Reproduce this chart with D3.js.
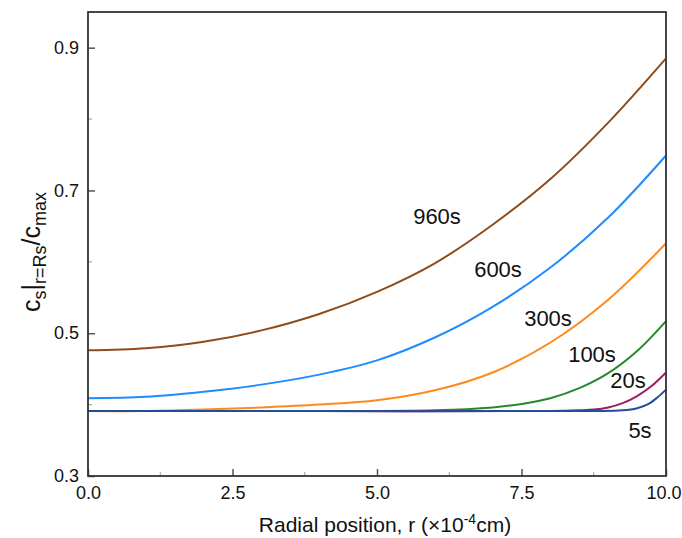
<!DOCTYPE html>
<html>
<head>
<meta charset="utf-8">
<script src="https://cdn.jsdelivr.net/npm/d3@7"></script>
<style>
  body { margin: 0; background: #fff; }
  svg text { font-family: "Liberation Sans", Arial, sans-serif; fill: #111; }
</style>
</head>
<body>
<div class="chart"></div>
<script>
// Data (r in 1e-4 cm, value = cs/cmax)

var r960 = [0, 1, 2, 3, 4, 5, 6, 7, 8, 9, 10];
var c960 = [0.476, 0.479, 0.488, 0.504, 0.527, 0.558, 0.598, 0.652, 0.716, 0.795, 0.885];

var r600 = [0, 1, 2, 3, 4, 5, 6, 7, 8, 9, 10];
var c600 = [0.409, 0.411, 0.418, 0.428, 0.442, 0.462, 0.494, 0.537, 0.592, 0.662, 0.749];

var r300 = [0, 1, 2, 3, 4, 5, 6, 7, 8, 9, 10];
var c300 = [0.391, 0.391, 0.393, 0.396, 0.400, 0.406, 0.420, 0.445, 0.487, 0.547, 0.626];

var r100 = [0, 2, 4, 6, 7, 7.5, 8, 8.5, 9, 9.5, 10];
var c100 = [0.391, 0.391, 0.391, 0.392, 0.396, 0.401, 0.409, 0.423, 0.444, 0.475, 0.517];

var r20 = [0, 4, 8, 8.5, 8.75, 9, 9.25, 9.5, 9.75, 10];
var c20 = [0.391, 0.391, 0.391, 0.392, 0.393, 0.396, 0.402, 0.412, 0.426, 0.445];

var r5 = [0, 4, 8.75, 9.25, 9.5, 9.7, 9.85, 10];
var c5 = [0.391, 0.391, 0.391, 0.392, 0.395, 0.401, 0.410, 0.421];

var xTicks = [0, 2.5, 5, 7.5, 10];
var xMinor = [1.25, 3.75, 6.25, 8.75];
var yTicks = [0.3, 0.5, 0.7, 0.9];
var yMinor = [0.4, 0.6, 0.8];

var series = [
    { name: "960s", r: r960, c: c960, color: "#8f4c1a", lx: 437, ly: 224 },
    { name: "600s", r: r600, c: c600, color: "#1f8bff", lx: 498, ly: 277 },
    { name: "300s", r: r300, c: c300, color: "#ff8a1c", lx: 548, ly: 326 },
    { name: "100s", r: r100, c: c100, color: "#26882a", lx: 592, ly: 362 },
    { name: "20s",  r: r20,  c: c20,  color: "#9e1f5c", lx: 628, ly: 388 },
    { name: "5s",   r: r5,   c: c5,   color: "#1f4f9a", lx: 640, ly: 438 }
];

var svgWidth = 682;
var svgHeight = 538;
var margin = { top: 12, right: 16, bottom: 62, left: 88 };
var width = svgWidth - margin.left - margin.right;
var height = svgHeight - margin.top - margin.bottom;

var svg = d3.select(".chart")
    .append("svg")
    .attr("width", svgWidth)
    .attr("height", svgHeight);

var chart = svg.append("g")
    .attr("transform", "translate(" + margin.left + "," + margin.top + ")");

var x = d3.scaleLinear().domain([0, 10]).range([0, width]);
var y = d3.scaleLinear().domain([0.3, 0.95]).range([height, 0]);

// curves
var line = d3.line()
    .x(function(d) { return x(d[0]); })
    .y(function(d) { return y(d[1]); })
    .curve(d3.curveCatmullRom.alpha(0.5));

series.forEach(function(s) {
    var pts = s.r.map(function(v, i) { return [v, s.c[i]]; });
    chart.append("path")
        .datum(pts)
        .attr("fill", "none")
        .attr("stroke", s.color)
        .attr("stroke-width", 2)
        .attr("d", line);

    svg.append("text")
        .attr("x", s.lx)
        .attr("y", s.ly)
        .attr("text-anchor", "middle")
        .attr("font-size", "22px")
        .text(s.name);
});

// axes, ticks pointing inside
var bottomAxis = d3.axisBottom(x).tickValues(xTicks).tickSize(-7).tickPadding(10)
    .tickFormat(d3.format(".1f"));
var leftAxis = d3.axisLeft(y).tickValues(yTicks).tickSize(-7).tickPadding(9)
    .tickFormat(d3.format(".1f"));

var gx = chart.append("g")
    .attr("transform", "translate(0," + height + ")")
    .call(bottomAxis);
var gy = chart.append("g").call(leftAxis);

[gx, gy].forEach(function(g) {
    g.select(".domain").remove();
    g.selectAll("line").attr("stroke", "#555").attr("stroke-width", 1.5);
    g.selectAll("text").attr("font-size", "18px").attr("fill", "#111")
        .style("font-family", "'Liberation Sans', Arial, sans-serif");
});

// keep "10.0" inside the window
gx.selectAll(".tick text")
    .filter(function(d) { return d === 10; })
    .attr("text-anchor", "end")
    .attr("dx", 15);

chart.selectAll(".xminor")
    .data(xMinor)
    .enter()
    .append("line")
    .attr("x1", function(d) { return x(d); })
    .attr("x2", function(d) { return x(d); })
    .attr("y1", height)
    .attr("y2", height - 4)
    .attr("stroke", "#999");

chart.selectAll(".yminor")
    .data(yMinor)
    .enter()
    .append("line")
    .attr("x1", 0)
    .attr("x2", 4)
    .attr("y1", function(d) { return y(d); })
    .attr("y2", function(d) { return y(d); })
    .attr("stroke", "#999");

// frame
chart.append("rect")
    .attr("width", width)
    .attr("height", height)
    .attr("fill", "none")
    .attr("stroke", "#333")
    .attr("stroke-width", 1.8);

// x axis title
var xt = svg.append("text")
    .attr("x", margin.left + width / 2 + 8)
    .attr("y", 532)
    .attr("text-anchor", "middle")
    .attr("font-size", "21px");
xt.append("tspan").text("Radial position, r (\u00d710");
xt.append("tspan").attr("font-size", "14px").attr("dy", -8).text("-4");
xt.append("tspan").attr("dy", 8).text("cm)");

// y axis title
var yt = svg.append("text")
    .attr("transform", "translate(40,252) rotate(-90)")
    .attr("text-anchor", "middle")
    .attr("font-size", "25px");
yt.append("tspan").text("c");
yt.append("tspan").attr("font-size", "18px").attr("dy", 6).text("s");
yt.append("tspan").attr("dy", -6).text("|");
yt.append("tspan").attr("font-size", "18px").attr("dy", 6).text("r=Rs");
yt.append("tspan").attr("dy", -6).text("/c");
yt.append("tspan").attr("font-size", "18px").attr("dy", 6).text("max");
</script>
</body>
</html>
